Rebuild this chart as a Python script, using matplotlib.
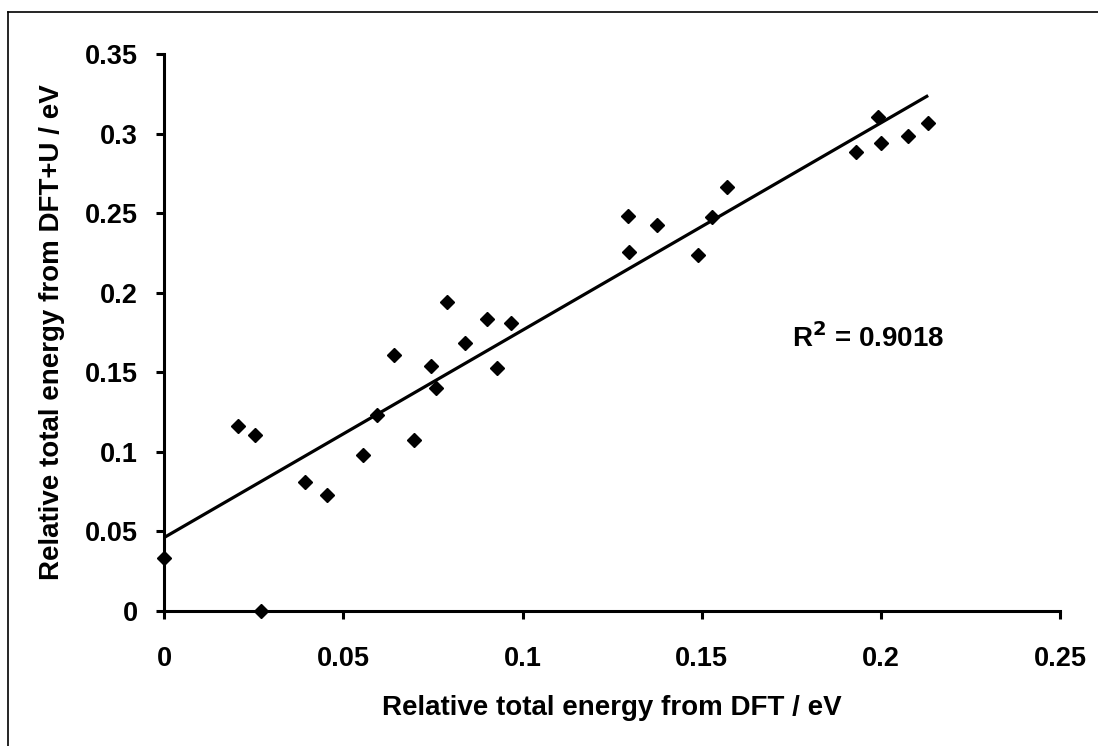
import numpy as np
import matplotlib
matplotlib.use("Agg")
import matplotlib.pyplot as plt
from matplotlib.lines import Line2D

# Data
dft = [0.0, 0.0270, 0.0206, 0.0254, 0.0393, 0.0455, 0.0555, 0.0595, 0.0642,
       0.0698, 0.0743, 0.0758, 0.0839, 0.0929, 0.0788, 0.0900, 0.0969,
       0.1293, 0.1374, 0.1298, 0.1490, 0.1530, 0.1571, 0.1930, 0.1991,
       0.2000, 0.2076, 0.2132]
dftu = [0.0334, 0.0, 0.1160, 0.1106, 0.0810, 0.0730, 0.0980, 0.1230, 0.1610,
        0.1072, 0.1540, 0.1403, 0.1686, 0.1529, 0.1940, 0.1837, 0.1812,
        0.2483, 0.2426, 0.2255, 0.2236, 0.2479, 0.2667, 0.2884, 0.3104,
        0.2940, 0.2986, 0.3066]
x_ticks = [0, 0.05, 0.1, 0.15, 0.2, 0.25]
x_tick_labels = ["0", "0.05", "0.1", "0.15", "0.2", "0.25"]
y_ticks = [0, 0.05, 0.1, 0.15, 0.2, 0.25, 0.3, 0.35]
y_tick_labels = ["0", "0.05", "0.1", "0.15", "0.2", "0.25", "0.3", "0.35"]
r2_text = "R$^{\\mathbf{2}}$ = 0.9018"

plt.rcParams['font.family'] = ['Liberation Sans', 'DejaVu Sans']
plt.rcParams['font.weight'] = 'bold'

fig = plt.figure(figsize=(10.98, 7.46), dpi=100)
ax = fig.add_axes([164.3/1098, 1 - 610.8/746, (1060 - 164.3)/1098, (610.8 - 54.3)/746])

x = np.array(dft)
y = np.array(dftu)
slope, intercept = np.polyfit(x, y, 1)
xl = np.array([0.0, x.max()])
ax.plot(xl, intercept + slope * xl, color='black', lw=2.3, solid_capstyle='butt', zorder=2)
ax.plot(x, y, linestyle='none', marker='D', markersize=7.6, color='black',
        clip_on=False, zorder=3)

ax.set_xlim(0, 0.25)
ax.set_ylim(0, 0.35)
ax.set_xticks(x_ticks)
ax.set_xticklabels(x_tick_labels)
ax.set_yticks(y_ticks)
ax.set_yticklabels(y_tick_labels)
for s in ['top', 'right']:
    ax.spines[s].set_visible(False)
for s in ['left', 'bottom']:
    ax.spines[s].set_linewidth(2.2)
ax.tick_params(axis='both', direction='out', length=6, width=2.2, labelsize=19.5)
ax.tick_params(axis='x', pad=19)
ax.tick_params(axis='y', pad=13)
for lab in ax.get_xticklabels() + ax.get_yticklabels():
    lab.set_fontweight('bold')

ax.set_xlabel("Relative total energy from DFT / eV", fontsize=20, fontweight='bold', labelpad=17)
ax.set_ylabel("Relative total energy from DFT+U / eV", fontsize=20, fontweight='bold', labelpad=14)

ax.text(792, 746 - 347, r2_text, transform=None, fontsize=20, fontweight='bold',
        ha='left', va='baseline')

# figure frame (top and left edges visible)
fig.add_artist(Line2D([8/1098, 1.0], [1 - 12/746, 1 - 12/746], transform=fig.transFigure,
                      color='black', lw=1.2))
fig.add_artist(Line2D([8/1098, 8/1098], [0.0, 1 - 12/746], transform=fig.transFigure,
                      color='black', lw=1.2))

fig.savefig("out.png", dpi=100)
